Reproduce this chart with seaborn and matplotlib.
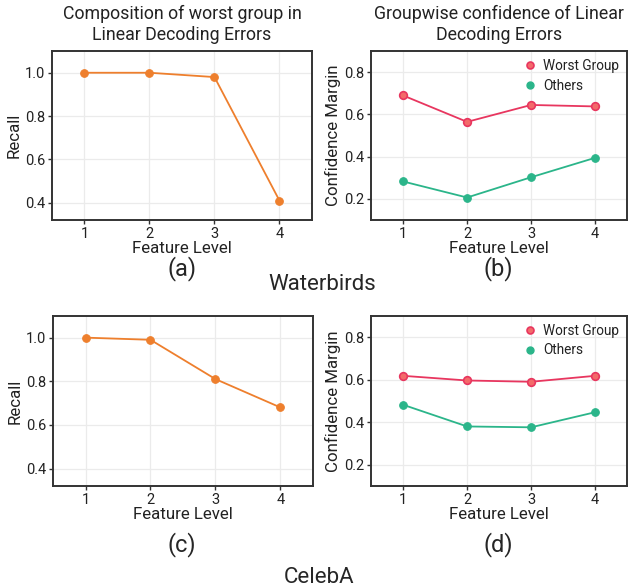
import pandas as pd
import seaborn as sns
import matplotlib.pyplot as plt
from matplotlib.lines import Line2D

# Data
levels = [1, 2, 3, 4]
wb_recall = [1.0, 1.0, 0.98, 0.41]
wb_worst = [0.69, 0.565, 0.645, 0.638]
wb_others = [0.283, 0.207, 0.303, 0.395]
ca_recall = [1.0, 0.99, 0.81, 0.68]
ca_worst = [0.618, 0.596, 0.590, 0.618]
ca_others = [0.482, 0.380, 0.376, 0.447]

ORANGE = "#ee7f2d"
RED = "#e8365f"
RED_FACE = "#f36a6a"
GREEN = "#2bb58a"

sns.set_style("whitegrid")
plt.rcParams["font.family"] = ["Roboto", "DejaVu Sans"]
plt.rcParams["axes.edgecolor"] = "#333333"
plt.rcParams["grid.color"] = "#ebebeb"

fig = plt.figure(figsize=(6.31, 5.87), dpi=100)
ax_a = fig.add_axes([0.0824, 0.625, 0.412, 0.288])
ax_b = fig.add_axes([0.588, 0.625, 0.406, 0.288])
ax_c = fig.add_axes([0.0840, 0.172, 0.412, 0.29])
ax_d = fig.add_axes([0.588, 0.172, 0.406, 0.29])


def style_axes(ax, ylabel, ylim, yticks):
    ax.set_xlim(0.5, 4.5)
    ax.set_ylim(*ylim)
    ax.set_xticks(levels)
    ax.set_yticks(yticks)
    ax.set_yticklabels([f"{t:.1f}" for t in yticks])
    ax.set_xlabel("Feature Level", fontsize=12.2, labelpad=0, color="#222222")
    ax.set_ylabel(ylabel, fontsize=12.2, labelpad=2, color="#222222")
    ax.tick_params(axis="both", labelsize=10.5, length=3, width=1, color="#333333",
                   labelcolor="#222222", pad=2, left=True, bottom=True)
    for s in ax.spines.values():
        s.set_linewidth(1.4)
    ax.grid(True, linewidth=0.9)


def recall_plot(ax, vals):
    df = pd.DataFrame({"level": levels, "recall": vals})
    sns.lineplot(data=df, x="level", y="recall", ax=ax, color=ORANGE, marker="o",
                 markersize=5.5, markerfacecolor=ORANGE, markeredgecolor=ORANGE,
                 linewidth=1.3)
    style_axes(ax, "Recall", (0.32, 1.1), [0.4, 0.6, 0.8, 1.0])


def margin_plot(ax, worst, others):
    df = pd.DataFrame({
        "level": levels * 2,
        "margin": worst + others,
        "group": ["Worst Group"] * 4 + ["Others"] * 4,
    })
    sns.lineplot(data=df[df.group == "Worst Group"], x="level", y="margin", ax=ax,
                 color=RED, marker="o", markersize=5.5, markerfacecolor=RED_FACE,
                 markeredgecolor=RED, markeredgewidth=1.2, linewidth=1.3)
    sns.lineplot(data=df[df.group == "Others"], x="level", y="margin", ax=ax,
                 color=GREEN, marker="o", markersize=5.5, markerfacecolor=GREEN,
                 markeredgecolor=GREEN, linewidth=1.3)
    style_axes(ax, "Confidence Margin", (0.1, 0.9), [0.2, 0.4, 0.6, 0.8])
    handles = [
        Line2D([], [], linestyle="none", marker="o", markersize=5,
               markerfacecolor=RED_FACE, markeredgecolor=RED, markeredgewidth=1.2),
        Line2D([], [], linestyle="none", marker="o", markersize=5,
               markerfacecolor=GREEN, markeredgecolor=GREEN),
    ]
    ax.legend(handles, ["Worst Group", "Others"], loc="upper right", frameon=False,
              fontsize=9.8, handletextpad=0.2, handlelength=1.5, labelspacing=0.4,
              borderaxespad=0.2, labelcolor="#222222")


recall_plot(ax_a, wb_recall)
margin_plot(ax_b, wb_worst, wb_others)
recall_plot(ax_c, ca_recall)
margin_plot(ax_d, ca_worst, ca_others)

ax_a.set_title("Composition of worst group in\nLinear Decoding Errors", fontsize=12.8,
               pad=8, linespacing=1.2, color="#222222")
ax_b.set_title("Groupwise confidence of Linear\nDecoding Errors", fontsize=12.8,
               pad=8, linespacing=1.2, color="#222222")

fig.text(0.288, 0.543, "(a)", ha="center", va="center", fontsize=17)
fig.text(0.790, 0.543, "(b)", ha="center", va="center", fontsize=17)
fig.text(0.511, 0.516, "Waterbirds", ha="center", va="center", fontsize=16)
fig.text(0.288, 0.072, "(c)", ha="center", va="center", fontsize=17)
fig.text(0.790, 0.072, "(d)", ha="center", va="center", fontsize=17)
fig.text(0.506, 0.016, "CelebA", ha="center", va="center", fontsize=16)

fig.savefig("out.png", dpi=100)
